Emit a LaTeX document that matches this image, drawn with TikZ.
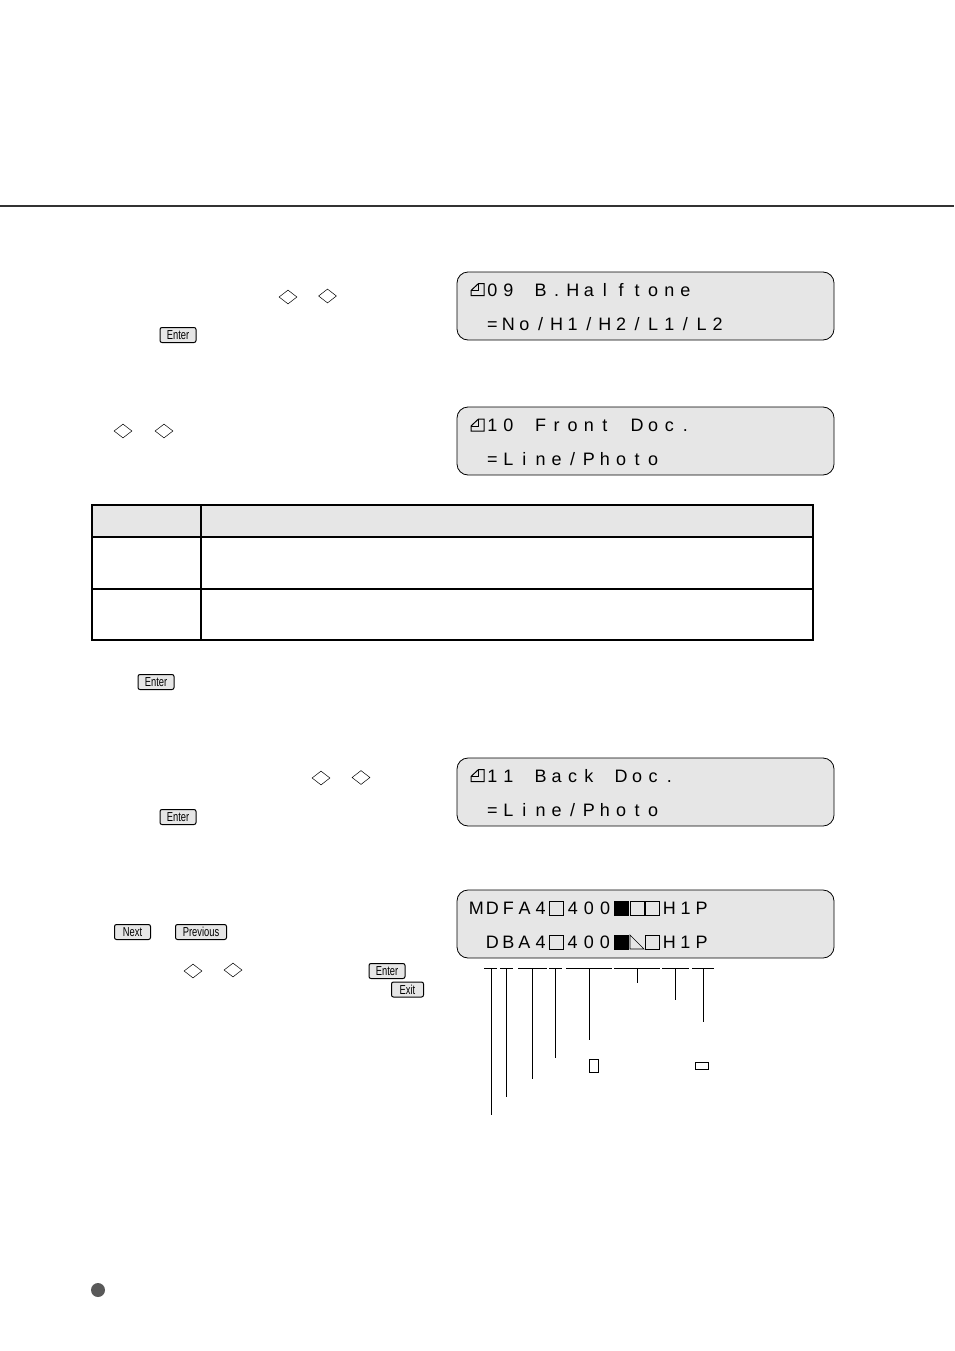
\documentclass[tikz,border=0pt]{standalone}
\usepackage{fontspec}
\setmainfont{Liberation Sans}
\newfontfamily\keyfont[FakeStretch=0.72]{Liberation Sans}
\usetikzlibrary{shapes.geometric}

\definecolor{panelgray}{HTML}{E6E6E6}

\makeatletter
\newcommand{\lcd}[1]{\@tfor\lcd@c:=#1\do{\makebox[16.1pt]{\lcd@c}}}
\makeatother

\tikzstyle{panel}=[draw,fill=panelgray,rounded corners=11pt,line width=0.8pt,minimum width=377pt,minimum height=68pt,inner sep=0pt]
\tikzstyle{lcdtext}=[anchor=base west,inner sep=0pt,font=\fontsize{18}{18}\selectfont]
\tikzstyle{key}=[draw,fill=panelgray,rounded corners=2pt,line width=1pt,minimum height=15pt,inner sep=0pt,font=\keyfont\fontsize{13}{13}\selectfont]
\tikzstyle{arrowkey}=[diamond,draw,line width=0.5pt,minimum width=18pt,minimum height=14pt,inner sep=0pt]
\tikzstyle{cell}=[rectangle,draw,line width=0.6pt,minimum size=14pt,inner sep=0pt]
\tikzstyle{fullcell}=[cell,fill=black]
\tikzstyle{leader}=[line width=0.8pt]
\tikzstyle{tablerule}=[line width=1.3pt]
\tikzset{docmark/.pic={
    \draw[line width=1pt] (-6.5,6) -- (-6.5,1) -- (1,-6) -- (6.5,-6) -- (6.5,6) -- cycle;
    \draw[line width=0.6pt] (-6.5,1) -- (1,1) -- (1,-6);
}}

\begin{document}
\begin{tikzpicture}[x=1pt,y=-1pt]
            \useasboundingbox (0,0) rectangle (954,1351);

            \coordinate (ruleleft) at (0,206);
            \coordinate (ruleright) at (954,206);
            \draw[line width=2.6pt,color=black!80] (ruleleft) -- (ruleright);

            \node (halftone) at (645.5,306) [panel] {};
            \node (frontdoc) at (645.5,441) [panel] {};
            \node (backdoc) at (645.5,792) [panel] {};
            \node (status) at (645.5,924) [panel] {};

            \pic at (477.5,289.5) {docmark};
            \pic at (477.5,425) {docmark};
            \pic at (477.5,775.5) {docmark};

            \node (halftonea) at (484,296) [lcdtext] {\lcd{09~B.Halftone}};
            \node (halftoneb) at (484,330) [lcdtext] {\lcd{=No/H1/H2/L1/L2}};
            \node (fronta) at (484,431) [lcdtext] {\lcd{10~Front~Doc.}};
            \node (frontb) at (484,465) [lcdtext] {\lcd{=Line/Photo}};
            \node (backa) at (484,782) [lcdtext] {\lcd{11~Back~Doc.}};
            \node (backb) at (484,816) [lcdtext] {\lcd{=Line/Photo}};
            \node (statusa) at (468,914) [lcdtext] {\lcd{MDFA4~400~~~H1P}};
            \node (statusb) at (484,948) [lcdtext] {\lcd{DBA4~400~~~H1P}};

            \node (sizea) at (556.5,908) [cell] {};
            \node (modea) at (621.5,908) [fullcell] {};
            \node (fronta) at (637,908) [cell] {};
            \node (backa) at (652.5,908) [cell] {};
            \node (sizeb) at (556.5,942) [cell] {};
            \node (modeb) at (621.5,942) [fullcell] {};
            \node (backb) at (652.5,942) [cell] {};
            \draw[line width=0.6pt] (630,935) -- (644,949) -- (630,949) -- cycle;

            \foreach \a/\b/\m/\e [count=\i] in {484/497/491/1115,500/513/506/1097,518/547/532/1079,549/562/555/1058,566/612/589/1040,614/660/637/983,662/689/675/1000,692/714/703/1022} {
                \coordinate (segl\i) at (\a,968);
                \coordinate (segr\i) at (\b,968);
                \coordinate (drop\i) at (\m,968);
                \coordinate (end\i) at (\m,\e);
                \draw[leader] (segl\i) -- (segr\i);
                \draw[leader] (drop\i) -- (end\i);
            }
            \node (portrait) at (593.5,1065.5) [rectangle,draw,line width=0.8pt,minimum width=9pt,minimum height=13pt,inner sep=0pt] {};
            \node (landscape) at (701.5,1065.5) [rectangle,draw,line width=0.8pt,minimum width=13pt,minimum height=7pt,inner sep=0pt] {};

            \node (arrowa) at (288,297) [arrowkey] {};
            \node (arrowb) at (327.5,296) [arrowkey] {};
            \node (arrowc) at (123,431) [arrowkey] {};
            \node (arrowd) at (164,431) [arrowkey] {};
            \node (arrowe) at (321,778) [arrowkey] {};
            \node (arrowf) at (361,777.5) [arrowkey] {};
            \node (arrowg) at (193,971) [arrowkey] {};
            \node (arrowh) at (233,970) [arrowkey] {};

            \node (entera) at (178,335) [key,minimum width=36pt] {Enter};
            \node (enterb) at (156,682) [key,minimum width=36pt] {Enter};
            \node (enterc) at (178,817) [key,minimum width=36pt] {Enter};
            \node (enterd) at (387,971) [key,minimum width=36pt] {Enter};
            \node (next) at (132.5,932) [key,minimum width=36pt] {Next};
            \node (previous) at (201,932) [key,minimum width=51pt] {Previous};
            \node (exit) at (407.5,989.5) [key,minimum width=32pt] {Exit};

            \node (tablehead) at (452.5,521) [rectangle,fill=panelgray,minimum width=721pt,minimum height=32pt,inner sep=0pt] {};
            \coordinate (tl) at (92,505);
            \coordinate (tr) at (813,505);
            \coordinate (bl) at (92,640);
            \coordinate (br) at (813,640);
            \coordinate (hl) at (92,537);
            \coordinate (hr) at (813,537);
            \coordinate (ml) at (92,589);
            \coordinate (mr) at (813,589);
            \coordinate (vt) at (201,505);
            \coordinate (vb) at (201,640);
            \draw[tablerule,line width=2pt] (tl) -- (tr) -- (br) -- (bl) -- cycle;
            \draw[tablerule,line width=2.4pt] (hl) -- (hr);
            \draw[tablerule] (ml) -- (mr);
            \draw[tablerule,line width=2.4pt] (vt) -- (vb);

            \node (bullet) at (98,1290) [circle,fill=black!65,minimum size=14pt,inner sep=0pt] {};
        \end{tikzpicture}
\end{document}
